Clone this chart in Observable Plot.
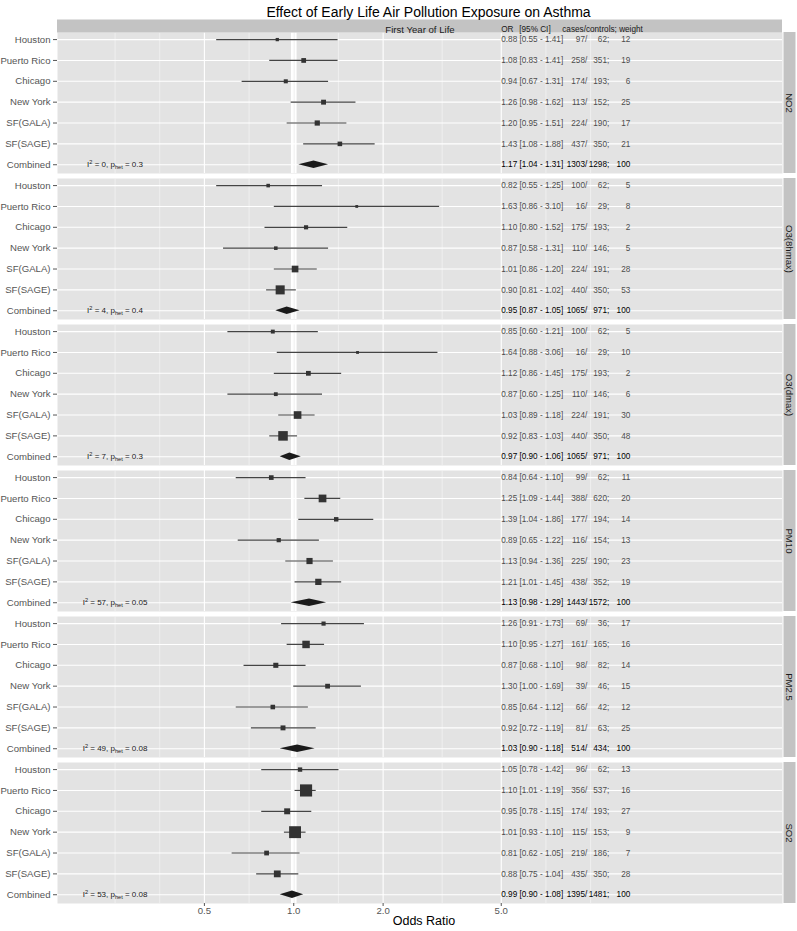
<!DOCTYPE html>
<html><head><meta charset="utf-8">
<script src="https://cdn.jsdelivr.net/npm/d3@7"></script>
<script src="https://cdn.jsdelivr.net/npm/@observablehq/plot@0.6"></script>
<style>body{margin:0;background:#fff}</style>
</head><body><div id="chart"></div>
<script>
const title = "Effect of Early Life Air Pollution Exposure on Asthma";
const pollutants = ["NO2", "O3(8hmax)", "O3(dmax)", "PM10", "PM2.5", "SO2"];
const cities = ["Houston", "Puerto Rico", "Chicago", "New York", "SF(GALA)", "SF(SAGE)", "Combined"];
const oddsRatio = [
  [0.88, 1.08, 0.94, 1.26, 1.20, 1.43, 1.17],
  [0.82, 1.63, 1.10, 0.87, 1.01, 0.90, 0.95],
  [0.85, 1.64, 1.12, 0.87, 1.03, 0.92, 0.97],
  [0.84, 1.25, 1.39, 0.89, 1.13, 1.21, 1.13],
  [1.26, 1.10, 0.87, 1.30, 0.85, 0.92, 1.03],
  [1.05, 1.10, 0.95, 1.01, 0.81, 0.88, 0.99]];
const ciLow = [
  [0.55, 0.83, 0.67, 0.98, 0.95, 1.08, 1.04],
  [0.55, 0.86, 0.80, 0.58, 0.86, 0.81, 0.87],
  [0.60, 0.88, 0.86, 0.60, 0.89, 0.83, 0.90],
  [0.64, 1.09, 1.04, 0.65, 0.94, 1.01, 0.98],
  [0.91, 0.95, 0.68, 1.00, 0.64, 0.72, 0.90],
  [0.78, 1.01, 0.78, 0.93, 0.62, 0.75, 0.90]];
const ciHigh = [
  [1.41, 1.41, 1.31, 1.62, 1.51, 1.88, 1.31],
  [1.25, 3.10, 1.52, 1.31, 1.20, 1.02, 1.05],
  [1.21, 3.06, 1.45, 1.25, 1.18, 1.03, 1.06],
  [1.10, 1.44, 1.86, 1.22, 1.36, 1.45, 1.29],
  [1.73, 1.27, 1.10, 1.69, 1.12, 1.19, 1.18],
  [1.42, 1.19, 1.15, 1.10, 1.05, 1.04, 1.08]];
const cases = [
  [97, 258, 174, 113, 224, 437, 1303],
  [100, 16, 175, 110, 224, 440, 1065],
  [100, 16, 175, 110, 224, 440, 1065],
  [99, 388, 177, 116, 225, 438, 1443],
  [69, 161, 98, 39, 66, 81, 514],
  [96, 356, 174, 115, 219, 435, 1395]];
const controls = [
  [62, 351, 193, 152, 190, 350, 1298],
  [62, 29, 193, 146, 191, 350, 971],
  [62, 29, 193, 146, 191, 350, 971],
  [62, 620, 194, 154, 190, 352, 1572],
  [36, 165, 82, 46, 42, 63, 434],
  [62, 537, 193, 153, 186, 350, 1481]];
const weights = [
  [12, 19, 6, 25, 17, 21, 100],
  [5, 8, 2, 5, 28, 53, 100],
  [5, 10, 2, 6, 30, 48, 100],
  [11, 20, 14, 13, 23, 19, 100],
  [17, 16, 14, 15, 12, 25, 100],
  [13, 16, 27, 9, 7, 28, 100]];
const iSquared = [0, 4, 7, 57, 49, 53];
const pHet = ["0.3", "0.4", "0.3", "0.05", "0.08", "0.08"];
const xTicks = [0.5, 1, 2, 5];
const xMinorTicks = [0.25, 0.3536, 0.7071, 1.4142, 3.1623, 7.0711, 10];
const textColumnX = 5;     // table text starts at the 5.0 break
const annotationX = 0.25;  // heterogeneity label position

// ---- build tables ----
const f2 = d3.format(".2f");
const f1 = d3.format(".1f");
const rows = [];
pollutants.forEach((p, pi) => cities.forEach((c, ci) => {
  const lo = ciLow[pi][ci], hi = ciHigh[pi][ci];
  rows.push({
    pollutant: p, city: c, row: ci, or: oddsRatio[pi][ci], lo, hi,
    cases: cases[pi][ci], controls: controls[pi][ci], weight: weights[pi][ci],
    combined: c === "Combined",
    precision: Math.pow(2 * 1.96 / Math.log(hi / lo), 2)
  });
}));
const studies = rows.filter(d => !d.combined);
const combinedRows = rows.filter(d => d.combined);
const diamondHalf = 0.18;
const diamond = combinedRows.flatMap(d => [
  {pollutant: d.pollutant, x: d.lo, y1: d.row, y2: d.row},
  {pollutant: d.pollutant, x: d.or, y1: d.row - diamondHalf, y2: d.row + diamondHalf},
  {pollutant: d.pollutant, x: d.hi, y1: d.row, y2: d.row}
]);

const panelFill = "#e3e3e3";
const stripFill = "#c3c3c3";
const xDomain = [0.16, 44.3];
const yDomain = [-0.34, 6.42];
const rowText = d => `${f2(d.or)} [${f2(d.lo)} - ${f2(d.hi)}]`;

function tableMarks(data, fill) {
  const base = {fy: "pollutant", x: () => textColumnX, y: "row", fontSize: 8.2, fill};
  return [
    Plot.text(data, {...base, text: rowText, textAnchor: "start", dx: 0}),
    Plot.text(data, {...base, text: d => `${d.cases}/`, textAnchor: "end", dx: 86}),
    Plot.text(data, {...base, text: d => `${d.controls};`, textAnchor: "end", dx: 108}),
    Plot.text(data, {...base, text: d => `${d.weight}`, textAnchor: "end", dx: 129})
  ];
}

const topFacet = [pollutants[0]];
const bottomPollutant = pollutants[pollutants.length - 1];
const bottomFacet = [bottomPollutant];

const chart = Plot.plot({
  width: 797, height: 931,
  marginTop: 32, marginBottom: 27, marginLeft: 57, marginRight: 15,
  style: {fontFamily: "'Liberation Sans', Arial, Helvetica, sans-serif", fontSize: "9.6px", background: "white", overflow: "visible"},
  x: {type: "log", domain: xDomain},
  y: {domain: yDomain, reverse: true},
  fy: {domain: pollutants, paddingInner: 0.034, paddingOuter: 0, axis: null},
  r: {type: "sqrt", domain: [0, 600], range: [0.8, 7]},
  marks: [
    Plot.frame({fill: panelFill}),
    Plot.ruleX(xMinorTicks, {stroke: "#f3f3f3", strokeWidth: 0.8}),
    Plot.ruleX(xTicks, {stroke: "white", strokeWidth: 1.1}),
    Plot.ruleY(d3.range(cities.length), {stroke: "white", strokeWidth: 1.1}),
    Plot.ruleX([1], {stroke: "white", strokeWidth: 2, dx: -1.8}),
    Plot.ruleX([1], {stroke: "white", strokeWidth: 2, dx: 1.8}),
    Plot.ruleY(studies, {fy: "pollutant", y: "row", x1: "lo", x2: "hi", stroke: "#444", strokeWidth: 1.15}),
    Plot.dot(studies, {fy: "pollutant", x: "or", y: "row", r: "precision", symbol: "square", fill: "#333"}),
    Plot.areaY(diamond, {fy: "pollutant", x: "x", y1: "y1", y2: "y2", z: "pollutant", fill: "#1a1a1a", curve: "linear"}),
    ...tableMarks(studies, "#4d4d4d"),
    ...tableMarks(combinedRows, "#000"),
    Plot.text(pollutants, {fy: d => d, x: () => annotationX, y: () => cities.length - 1,
      text: (d, i) => `I^2 = ${iSquared[i]}, p_het = ${pHet[i]}`, fontSize: 8, fill: "#222"}),
    // right strips
    Plot.ruleX([xDomain[1]], {dx: 7, stroke: stripFill, strokeWidth: 12}),
    Plot.text(pollutants, {fy: d => d, x: () => xDomain[1], frameAnchor: "middle", dx: 7, rotate: 90,
      text: d => d, fontSize: 9.6, fill: "#1a1a1a"}),
    // top strip
    Plot.ruleY(topFacet, {fy: d => d, y: () => yDomain[0], dy: -6.5, stroke: stripFill, strokeWidth: 13}),
    Plot.text(topFacet, {fy: d => d, frameAnchor: "top", dy: -6.5, text: () => "First Year of Life", fontSize: 9.6, fill: "#1a1a1a"}),
    Plot.text(topFacet, {fy: d => d, x: () => textColumnX, frameAnchor: "top", dy: -6.5, textAnchor: "start", text: () => "OR", fontSize: 8.2, fill: "#1a1a1a"}),
    Plot.text(topFacet, {fy: d => d, x: () => textColumnX, frameAnchor: "top", dy: -6.5, dx: 18, textAnchor: "start", text: () => "[95% CI]", fontSize: 8.2, fill: "#1a1a1a"}),
    Plot.text(topFacet, {fy: d => d, x: () => textColumnX, frameAnchor: "top", dy: -6.5, dx: 61, textAnchor: "start", text: () => "cases/controls; weight", fontSize: 8.2, fill: "#1a1a1a"}),
    // title and axis title
    Plot.text(topFacet, {fy: d => d, frameAnchor: "top", dy: -25, dx: 8.5, text: () => title, fontSize: 14, fill: "#000"}),
    Plot.text(bottomFacet, {fy: d => d, frameAnchor: "bottom", dy: 21, dx: 4, text: () => "Odds Ratio", fontSize: 12.5, fill: "#000"}),
    Plot.axisY({ticks: d3.range(cities.length), tickFormat: i => cities[i], tickSize: 4, tickPadding: 3, fontSize: 9.6, color: "#555", label: null}),
    Plot.axisX({ticks: xTicks, tickFormat: () => "", tickSize: 3, color: "#555", label: null}),
    Plot.text(xTicks, {fy: () => bottomPollutant, x: d => d, frameAnchor: "bottom", dy: 10, text: d => f1(d), fontSize: 9.6, fill: "#555"})
  ]
});

// superscript / subscript in heterogeneity labels
d3.select(chart).selectAll("text").each(function() {
  const m = this.textContent.match(/^I\^2 = (.*), p_het = (.*)$/);
  if (!m) return;
  const sel = d3.select(this);
  sel.text(null);
  sel.append("tspan").text("I");
  sel.append("tspan").attr("dy", -3.5).attr("font-size", 5.6).text("2");
  sel.append("tspan").attr("dy", 3.5).text(` = ${m[1]}, p`);
  sel.append("tspan").attr("dy", 2).attr("font-size", 5.6).text("het");
  sel.append("tspan").attr("dy", -2).text(` = ${m[2]}`);
});

document.getElementById("chart").append(chart);
</script>
</body></html>
